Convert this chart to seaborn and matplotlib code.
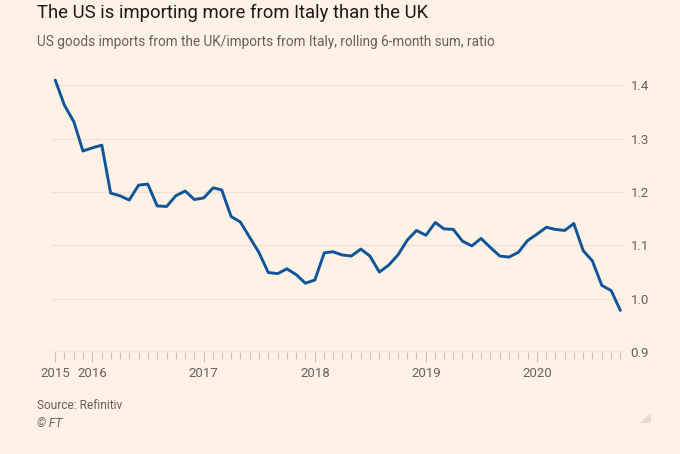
import matplotlib
matplotlib.use("Agg")
import matplotlib.pyplot as plt
import matplotlib.dates as mdates
from matplotlib.patches import Polygon
import seaborn as sns
import pandas as pd

# ---- data ----
start_month = "2015-09-01"
ratio = [1.410, 1.363, 1.332, 1.277, 1.283, 1.288, 1.198, 1.193, 1.185, 1.213,
         1.215, 1.174, 1.173, 1.193, 1.202, 1.186, 1.189, 1.208, 1.204, 1.154,
         1.144, 1.115, 1.087, 1.049, 1.047, 1.056, 1.045, 1.029, 1.035, 1.086,
         1.088, 1.082, 1.080, 1.093, 1.080, 1.050, 1.063, 1.082, 1.110, 1.128,
         1.119, 1.143, 1.131, 1.130, 1.108, 1.099, 1.113, 1.096, 1.080, 1.078,
         1.087, 1.109, 1.121, 1.134, 1.130, 1.128, 1.141, 1.090, 1.071, 1.025,
         1.015, 0.978]
year_tick_dates = ["2015-09-01", "2016-01-01", "2017-01-01", "2018-01-01",
                   "2019-01-01", "2020-01-01"]
year_tick_labels = ["2015", "2016", "2017", "2018", "2019", "2020"]
y_ticks = [0.9, 1.0, 1.1, 1.2, 1.3, 1.4]
y_tick_labels = ["0.9", "1.0", "1.1", "1.2", "1.3", "1.4"]

title = "The US is importing more from Italy than the UK"
subtitle = "US goods imports from the UK/imports from Italy, rolling 6-month sum, ratio"
source = "Source: Refinitiv"
credit = "© FT"

dates = pd.date_range(start_month, periods=len(ratio), freq="MS")
df = pd.DataFrame({"date": dates, "ratio": ratio})

# ---- style ----
BG = "#FFF1E5"
LINE = "#0F5499"
GRID = "#EDE2D7"
AXIS = "#CCC1B7"
TXT = "#66605C"

sns.set_theme(style="white")
plt.rcParams["font.family"] = ["Roboto", "DejaVu Sans"]

fig = plt.figure(figsize=(6.8, 4.54), dpi=100, facecolor=BG)
ax = fig.add_axes([0.075, 0.2247, 0.844, 0.6223])
ax.set_facecolor(BG)

sns.lineplot(data=df, x="date", y="ratio", ax=ax, color=LINE, linewidth=2.1)

ax.set_ylim(0.9, 1.43)
ax.set_xlim(pd.Timestamp("2015-08-18"), pd.Timestamp("2020-10-16"))

ax.yaxis.tick_right()
ax.set_yticks(y_ticks)
ax.set_yticklabels(y_tick_labels, fontsize=9.5, color=TXT)
ax.tick_params(axis="y", length=0, pad=4, left=False, right=False)
for yv in y_ticks[1:]:
    ax.axhline(yv, color=GRID, linewidth=1.0, zorder=0)
ax.axhline(0.9, color=AXIS, linewidth=1.0, zorder=1)

ax.set_xticks(pd.to_datetime(year_tick_dates))
ax.set_xticklabels(year_tick_labels, fontsize=9.5, color=TXT)
ax.xaxis.set_minor_locator(mdates.MonthLocator())
ax.tick_params(axis="x", which="major", bottom=True, length=7, width=0.8,
               color=AXIS, pad=4, direction="out")
ax.tick_params(axis="x", which="minor", bottom=True, length=5, width=0.8,
               color=AXIS, direction="out")

for s in ax.spines.values():
    s.set_visible(False)
ax.set_xlabel("")
ax.set_ylabel("")

fig.text(0.055, 0.972, title, fontsize=13.3, color="#1A1A1A", va="center", ha="left")
fig.text(0.055, 0.908, subtitle, fontsize=9.8, color=TXT, va="center", ha="left")
fig.text(0.054, 0.106, source, fontsize=8.6, color=TXT, va="center", ha="left")
fig.text(0.054, 0.068, credit, fontsize=8.6, color=TXT, va="center", ha="left", style="italic")

tri = Polygon([[0.957, 0.068], [0.957, 0.090], [0.941, 0.068]], closed=True,
              transform=fig.transFigure, facecolor="#E6DBD1", edgecolor="none")
fig.patches.append(tri)

fig.savefig("out.png", dpi=100, facecolor=BG)
